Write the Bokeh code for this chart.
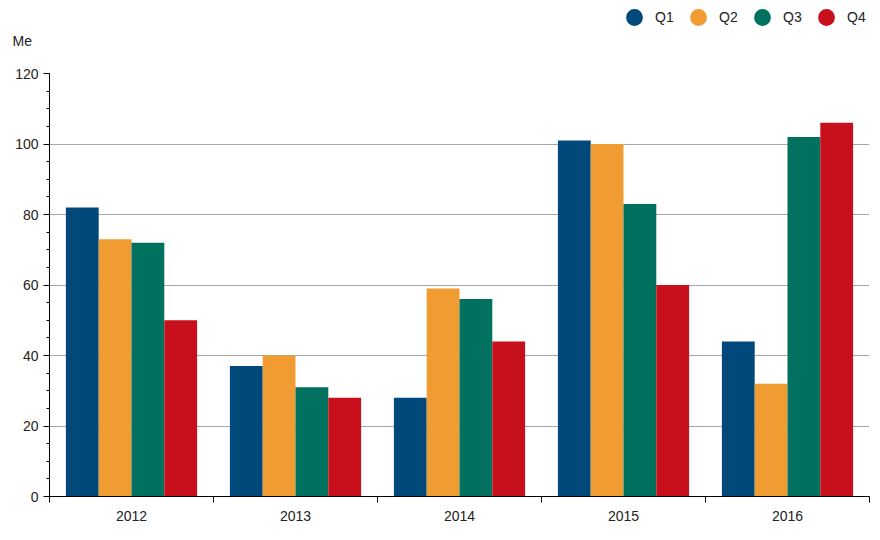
from bokeh.plotting import figure
from bokeh.layouts import column
from bokeh.models import (ColumnDataSource, Range1d, FixedTicker, SingleIntervalTicker,
                          Legend, LegendItem, Label)
from bokeh.transform import dodge
from bokeh.embed import file_html
from bokeh.resources import INLINE

years = ["2012", "2013", "2014", "2015", "2016"]
quarters = ["Q1", "Q2", "Q3", "Q4"]
q1 = [82, 37, 28, 101, 44]
q2 = [73, 40, 59, 100, 32]
q3 = [72, 31, 56, 83, 102]
q4 = [50, 28, 44, 60, 106]
colors = ["#00497A", "#F09C33", "#00715E", "#C8101C"]
unit_label = "Me"

FONT = "Liberation Sans"
TXT = "#222222"

# ---- header figure: unit label + legend ----
top = figure(width=880, height=63, output_backend="svg", toolbar_location=None,
             x_range=Range1d(0, 1), y_range=Range1d(0, 1),
             x_axis_type=None, y_axis_type=None,
             min_border_left=0, min_border_right=0, min_border_top=0, min_border_bottom=0)
top.outline_line_color = None
top.grid.visible = False
top.frame_align = False

items = []
for q, c in zip(quarters, colors):
    # legend proxy placed outside the visible range so only its legend glyph shows
    r = top.scatter(x=[-5], y=[-5], size=17, fill_color=c, line_color=None, marker="circle")
    items.append(LegendItem(label=q, renderers=[r]))

legend = Legend(items=items, orientation="horizontal", location=(613, 25),
                label_text_font=FONT, label_text_font_size="14px",
                label_text_color=TXT, glyph_width=42, glyph_height=42,
                spacing=2, label_standoff=0, padding=0, margin=0,
                border_line_color=None, background_fill_alpha=0)
top.add_layout(legend, "center")

lbl = Label(x=12, y=23, x_units="screen", y_units="screen", text=unit_label,
            text_font=FONT, text_font_size="14px", text_color=TXT,
            text_baseline="middle")
top.add_layout(lbl)

# ---- main chart ----
centers = [i + 0.5 for i in range(len(years))]
source = ColumnDataSource(dict(x=centers, Q1=q1, Q2=q2, Q3=q3, Q4=q4))

p = figure(width=880, height=477, output_backend="svg", toolbar_location=None,
           x_range=Range1d(0, len(years)), y_range=Range1d(0, 120),
           min_border_left=49, min_border_right=11, min_border_top=10, min_border_bottom=44)

offsets = [-0.3, -0.1, 0.1, 0.3]
for q, off, c in zip(quarters, offsets, colors):
    p.vbar(x=dodge("x", off, range=p.x_range), top=q, width=0.2, bottom=0,
           source=source, fill_color=c, line_color=None)

p.outline_line_color = None
p.xgrid.grid_line_color = None
p.ygrid.grid_line_color = "#A6A6A6"
p.ygrid.grid_line_width = 1

p.yaxis.ticker = SingleIntervalTicker(interval=20, num_minor_ticks=4)
p.yaxis.axis_line_color = "black"
p.yaxis.major_tick_line_color = "black"
p.yaxis.minor_tick_line_color = "black"
p.yaxis.major_tick_out = 6
p.yaxis.major_tick_in = 0
p.yaxis.minor_tick_out = 3
p.yaxis.minor_tick_in = 0
p.yaxis.major_label_text_font = FONT
p.yaxis.major_label_text_font_size = "14px"
p.yaxis.major_label_text_color = TXT
p.yaxis.major_label_standoff = 5

p.xaxis.ticker = FixedTicker(ticks=centers, minor_ticks=list(range(len(years) + 1)))
p.xaxis.major_label_overrides = {c: y for c, y in zip(centers, years)}
p.xaxis.major_tick_line_color = None
p.xaxis.minor_tick_line_color = "black"
p.xaxis.minor_tick_out = 6
p.xaxis.minor_tick_in = 0
p.xaxis.axis_line_color = "black"
p.xaxis.major_label_text_font = FONT
p.xaxis.major_label_text_font_size = "14px"
p.xaxis.major_label_text_color = TXT
p.xaxis.major_label_standoff = 8

layout = column(top, p, spacing=0)
open("out.html", "w").write(file_html(layout, INLINE))
